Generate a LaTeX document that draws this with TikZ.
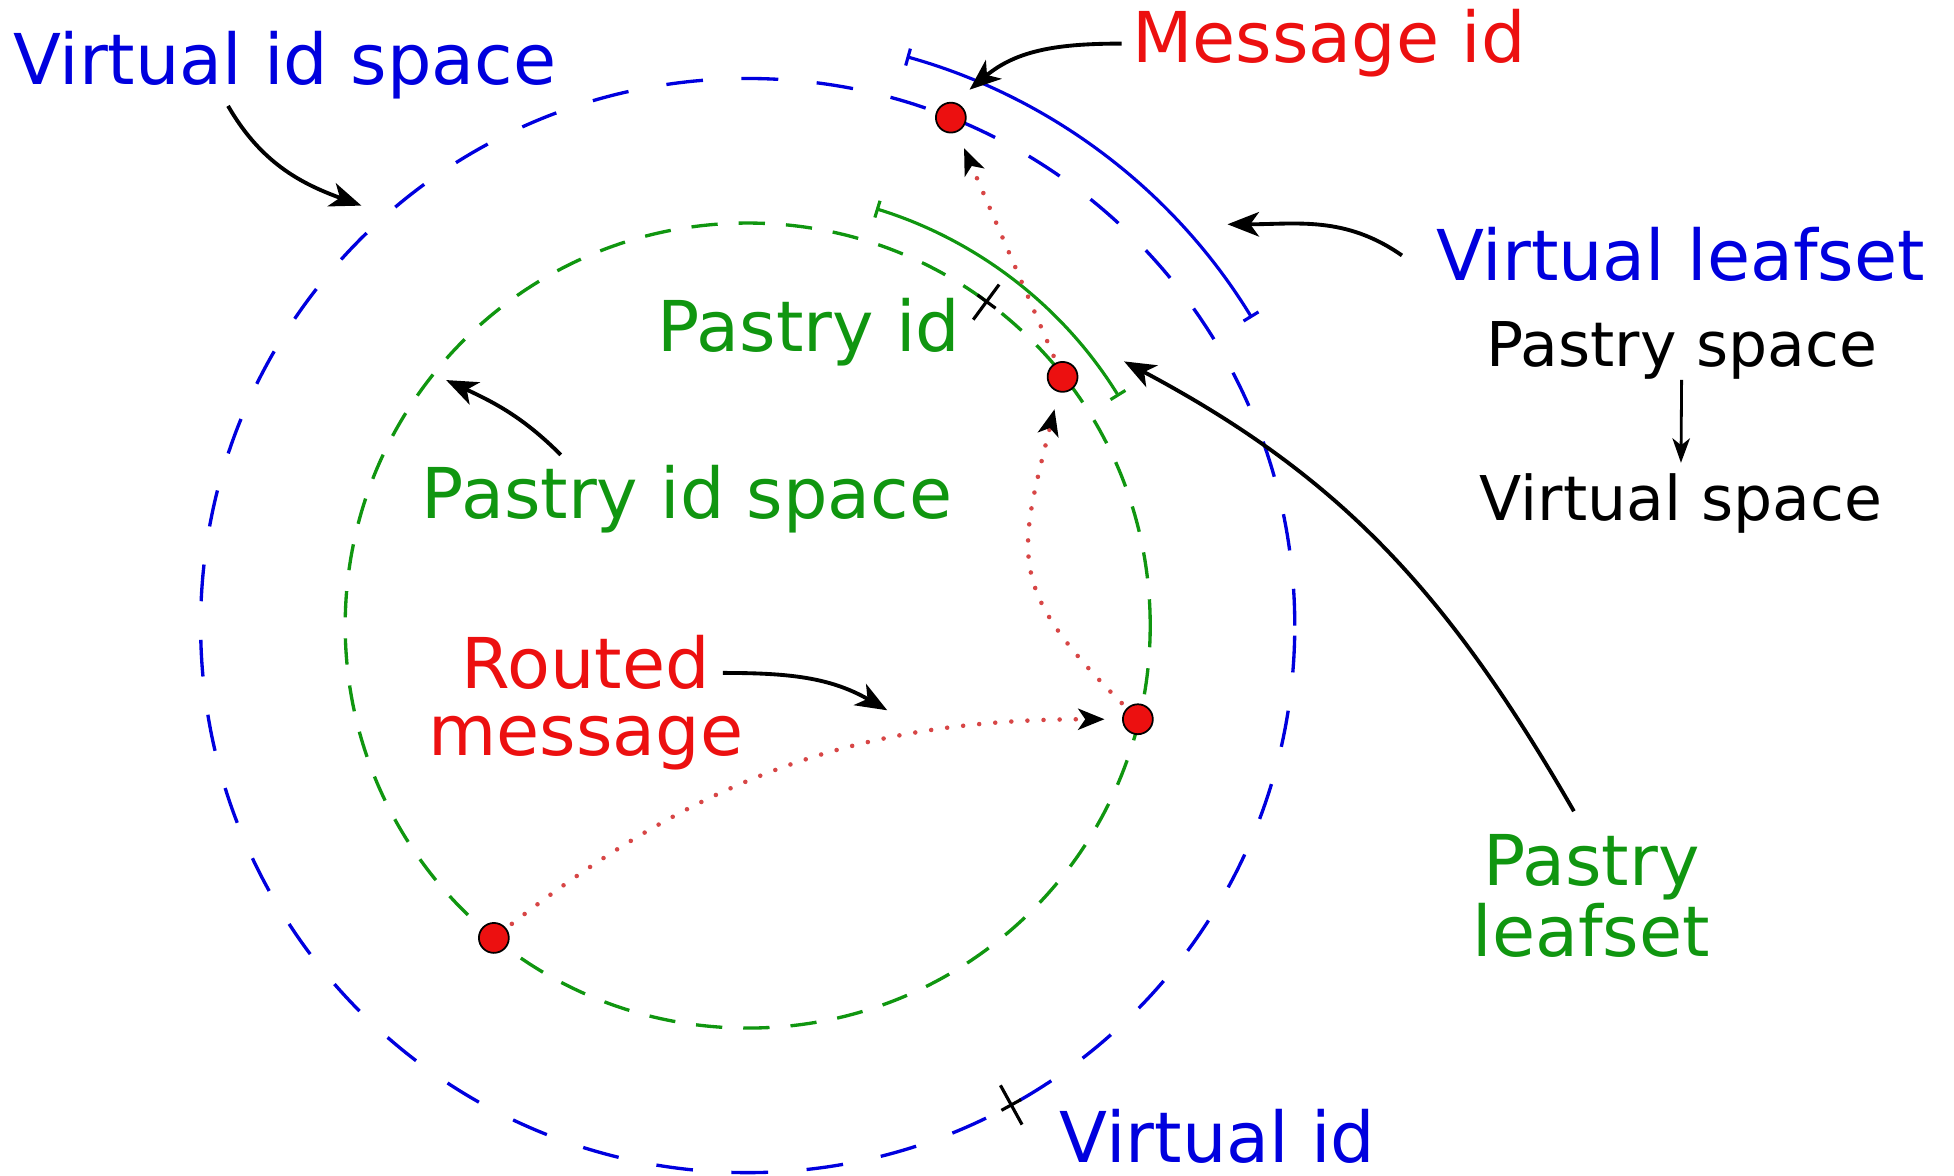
\documentclass[tikz,border=0pt]{standalone}
\usepackage{fontspec}
\setmainfont{DejaVu Sans}
\usetikzlibrary{arrows.meta,calc}

\definecolor{vblue}{RGB}{0,0,222}
\definecolor{pgreen}{RGB}{16,150,16}
\definecolor{mred}{RGB}{236,16,16}
\definecolor{hopred}{RGB}{215,70,70}

\begin{document}
\begin{tikzpicture}[x=0.0125cm,y=0.0125cm,
  big/.style={font=\fontsize{20}{19.2}\selectfont, inner sep=0pt},
  small/.style={font=\fontsize{17.6}{18}\selectfont, inner sep=0pt},
  vring/.style={vblue, line width=0.95pt, dash pattern=on 10.5pt off 11pt},
  pring/.style={pgreen, line width=0.95pt, dash pattern=on 7.5pt off 6pt},
  leafarc/.style={line width=0.9pt, {Bar[width=5pt]}-{Bar[width=5pt]}},
  node dot/.style={circle, fill=mred, draw=black, line width=0.5pt,
                   minimum size=0.3cm, inner sep=0pt},
  hop/.style={hopred, line width=1.3pt, line cap=round,
              dash pattern=on 0pt off 4.6pt,
              -{Stealth[black, length=7.5pt, width=6pt, inset=2pt]},
              shorten >=5pt, shorten <=2pt},
  note/.style={black, line width=1.1pt,
               -{Stealth[length=9pt, width=7pt, inset=2.5pt]}},
  tick/.style={black, line width=0.9pt}
]
\useasboundingbox (0,0) rectangle (1568,943);

\coordinate (C) at (600,441);

% identifier rings
\draw[vring] (C) circle[radius=439];
\draw[pring] (C) circle[radius=323];

% leafsets
\draw[leafarc, vblue] ($(C)+(74.4:474)$) arc[start angle=74.4, end angle=31.4, radius=474];
\draw[leafarc, pgreen] ($(C)+(72.9:350)$) arc[start angle=72.9, end angle=31.7, radius=350];

% id markers
\coordinate (pmark) at ($(C)+(53.6:323)$);
\coordinate (vmark) at ($(C)+(-61.2:439)$);
\begin{scope}[shift={(pmark)}, rotate=53.6]
  \draw[tick] (-18,0) -- (17,0);
  \draw[tick] (0,-9) -- (0,9);
\end{scope}
\begin{scope}[shift={(vmark)}, rotate=-61.2]
  \draw[tick] (-18,0) -- (18,0);
  \draw[tick] (0,-9) -- (0,9);
\end{scope}

% nodes along the route
\node[node dot] (d1) at ($(C)+(68.2:439)$) {};
\node[node dot] (d2) at ($(C)+(38.3:322)$) {};
\node[node dot] (d3) at ($(C)+(-13.5:322)$) {};
\node[node dot] (d4) at ($(C)+(230.9:323)$) {};

% routing hops
\draw[hop] (d4) to[out=38, in=180] (d3);
\draw[hop] (d3) to[out=135, in=-104, looseness=1.35] (d2);
\draw[hop] (d2) -- (d1);

% labels
\node[big, vblue, anchor=base west] (vis) at (10,875) {Virtual id space};
\node[big, mred, anchor=base west] (mid) at (908,893) {Message id};
\node[big, vblue, anchor=base west] (vls) at (1152,718) {Virtual leafset};
\node[small, anchor=base west] (ps) at (1192,649) {Pastry space};
\node[small, anchor=base west] (vs) at (1187,525) {Virtual space};
\node[big, pgreen, anchor=base west] (pid) at (527,661) {Pastry id};
\node[big, pgreen, anchor=base west] (pis) at (338,527) {Pastry id space};
\node[big, mred, align=center, anchor=north] (rm) at (470,434) {Routed\\message};
\node[big, pgreen, align=center, anchor=north] (pls) at (1277,274) {Pastry\\leafset};
\node[big, vblue, anchor=base west] (vid) at (850,10) {Virtual id};

% pointers from the labels
\coordinate (a1s) at (183,858);  \coordinate (a1e) at (290,778);
\coordinate (a2s) at (900,908);  \coordinate (a2e) at (778,871);
\coordinate (a3s) at (1125,738); \coordinate (a3e) at (985,763);
\coordinate (a4s) at (1263,292); \coordinate (a4e) at (902,653);
\coordinate (a5s) at (450,578);  \coordinate (a5e) at (358,638);
\coordinate (a6s) at (580,403);  \coordinate (a6e) at (712,373);

\draw[note] (a1s) to[out=-60, in=160] (a1e);
\draw[note] (a2s) to[out=180, in=40] (a2e);
\draw[note] (a3s) to[out=145, in=0] (a3e);
\draw[note] (a4s) to[out=120, in=-28] (a4e);
\draw[note] (a5s) to[out=135, in=-25] (a5e);
\draw[note] (a6s) to[out=0, in=150] (a6e);

\draw[black, line width=0.8pt, -{Stealth[length=7pt, width=5pt, inset=2pt]}]
  (ps.south) -- ([yshift=3pt]vs.north);
\end{tikzpicture}
\end{document}
